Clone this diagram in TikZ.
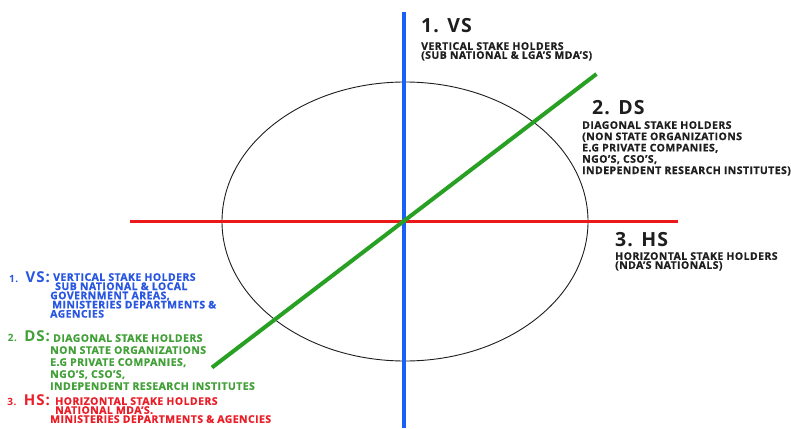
\documentclass[tikz,border=0pt]{standalone}
\usepackage{fontspec}
\newfontfamily\lab[LetterSpace=4,BoldFeatures={FakeBold=0.7}]{Open Sans}
\newfontfamily\head[LetterSpace=6]{Open Sans}
\definecolor{vblue}{RGB}{25,95,250}
\definecolor{tblue}{RGB}{40,85,225}
\definecolor{vgreen}{RGB}{40,160,35}
\definecolor{tgreen}{RGB}{65,160,55}
\definecolor{vred}{RGB}{235,25,25}
\definecolor{tred}{RGB}{235,30,40}
\definecolor{ink}{RGB}{30,30,30}
\begin{document}
\begin{tikzpicture}[x=1pt,y=-1pt,
  body/.style={anchor=north west,inner sep=0pt,align=left,text=ink,
    font={\lab\bfseries\fontsize{10.5}{#1}\selectfont\lineskiplimit=-20pt}},
  heading/.style={anchor=north west,inner sep=0pt,text=ink,
    font={\head\bfseries\fontsize{19.5}{20}\selectfont}},
  legend/.style={anchor=base east,inner sep=0pt,
    font={\head\bfseries\fontsize{15}{15}\selectfont}},
  axis/.style={line width=#1}]
\useasboundingbox (0,0) rectangle (791,428);
\fill[white] (0,0) rectangle (791,428);
% geometry
\coordinate (c) at (405,221.5);
\coordinate (vt) at (403.5,12);
\coordinate (vb) at (403.5,428);
\coordinate (hl) at (130,221.5);
\coordinate (hr) at (678,221.5);
\coordinate (gl) at (212,367.5);
\coordinate (gr) at (596.5,74);
\draw[line width=0.9pt,draw=ink] (c) ellipse [x radius=183pt, y radius=139.5pt];
\draw[axis=3.2pt,vred] (hl) -- (hr);
\draw[axis=4pt,vblue] (vt) -- (vb);
\draw[axis=4pt,vgreen] (gl) -- (gr);
% right labels
\node[heading] (h1) at (421,18) {1. VS};
\node[body=9] (t1) at (421,42) {VERTICAL STAKE HOLDERS\\(SUB NATIONAL \& LGA’S MDA’S)};
\node[heading] (h2) at (592,100) {2. DS};
\node[body=11.3] (t2) at (582,121) {DIAGONAL STAKE HOLDERS\\(NON STATE ORGANIZATIONS\\E.G PRIVATE COMPANIES,\\NGO’S, CSO’S,\\INDEPENDENT RESEARCH INSTITUTES)};
\node[heading] (h3) at (615,232) {3. HS};
\node[body=9] (t3) at (615,252) {HORIZONTAL STAKE HOLDERS\\(NDA’S NATIONALS)};
% left legend
\node[legend,text=tblue] (l1) at (50,282) {{\fontsize{10}{10}\selectfont 1.}\hspace{1pt} VS:};
\node[body=9.2,text=tblue] (b1) at (50,273) {\hspace{3pt}VERTICAL STAKE HOLDERS\\\hspace{5pt}SUB NATIONAL \& LOCAL\\GOVERNMENT AREAS,\\\hspace{2pt}MINISTERIES DEPARTMENTS \&\\AGENCIES};
\node[legend,text=tgreen] (l2) at (50,341) {{\fontsize{10}{10}\selectfont 2.}\hspace{1pt} DS:};
\node[body=12,text=tgreen] (b2) at (50,334) {\hspace{3pt}DIAGONAL STAKE HOLDERS\\NON STATE ORGANIZATIONS\\E.G PRIVATE COMPANIES,\\NGO’S, CSO’S,\\INDEPENDENT RESEARCH INSTITUTES};
\node[legend,text=tred] (l3) at (50,405) {{\fontsize{10}{10}\selectfont 3.}\hspace{1pt} HS:};
\node[body=9,text=tred] (b3) at (50,397) {\hspace{5pt}HORIZONTAL STAKE HOLDERS\\\hspace{5pt}NATIONAL MDA’S.\\MINISTERIES DEPARTMENTS \& AGENCIES};
\end{tikzpicture}
\end{document}
